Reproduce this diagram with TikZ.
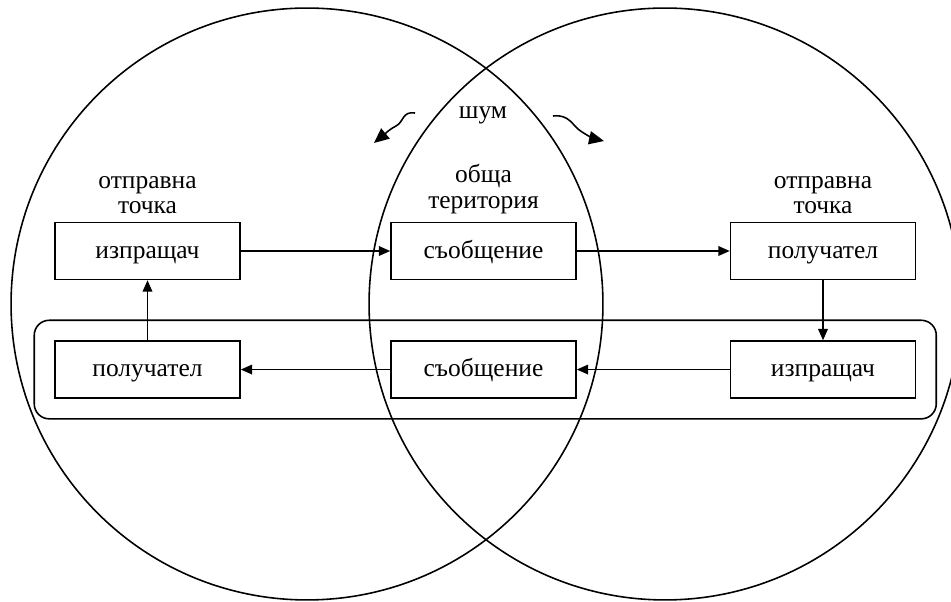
\documentclass[tikz,border=0pt]{standalone}
\usepackage{fontspec}
\setmainfont{Liberation Serif}
\usetikzlibrary{arrows.meta,positioning,fit}

\begin{document}
\begin{tikzpicture}[x=0.02cm,y=0.02cm,line width=0.9pt,
  box/.style={draw, minimum width=3.7cm, minimum height=1.14cm, inner sep=0pt, text height=1.8ex, text depth=0ex, font=\fontsize{14.5}{15}\selectfont},
  lbl/.style={align=center, inner sep=0pt, font=\fontsize{14.5}{14.5}\selectfont},
  flow/.style={-{Triangle[length=6.5pt,width=5.5pt]}},
  noise/.style={-{Triangle[length=8.5pt,width=7.5pt]}}]
\clip (0,0) rectangle (951,602);
% the two circles
\draw (307,298) circle[radius=5.92cm];
\draw (665,298) circle[radius=5.92cm];
% upper row
\node[box] (s1) at (147.5,351){изпращач};
\node[box] (m1) at (483.5,351){съобщение};
\node[box] (r1) at (823,351){получател};
% lower row
\node[box, below=1.2cm of s1] (r2){получател};
\node[box, below=1.2cm of m1] (m2){съобщение};
\node[box, below=1.2cm of r1] (s2){изпращач};
\node[draw, rounded corners=0.3cm, inner sep=0.4cm, fit=(r2)(s2)] (loop){};
% labels
\node[lbl, above=4pt of s1] (p1){отправна\\точка};
\node[lbl, above=4pt of m1] (t1){обща\\територия};
\node[lbl, above=4pt of r1] (p2){отправна\\точка};
\node[lbl] (n) at (483,487){шум};
\coordinate (n1) at (415,489);
\coordinate (n1e) at (374,459);
\coordinate (n2) at (553,486);
\coordinate (n2e) at (604,461);
\draw[noise] (n1) .. controls (402,491) and (404,480) .. (396,476) .. controls (390,473) and (386,469) .. (n1e);
\draw[noise] (n2) .. controls (570,488) and (572,476) .. (582,470) .. controls (588,466) and (595,463) .. (n2e);
% message flow
\draw[flow] (s1) -- (m1);
\draw[flow] (m1) -- (r1);
\draw[flow] (r1) -- (s2);
\draw[flow] (s2) -- (m2);
\draw[flow] (m2) -- (r2);
\draw[flow] (r2) -- (s1);
\end{tikzpicture}
\end{document}
